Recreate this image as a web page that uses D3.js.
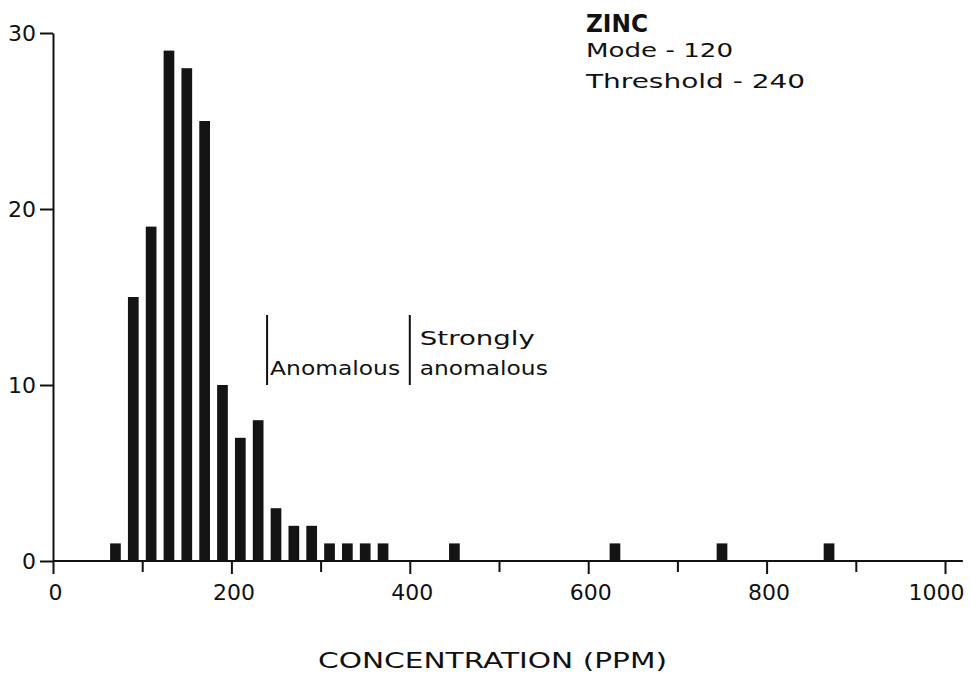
<!DOCTYPE html>
<html>
<head>
<meta charset="utf-8">
<script src="https://cdn.jsdelivr.net/npm/d3@7"></script>
<style>
  body { margin: 0; background: #fff; }
  svg text { font-family: "DejaVu Sans", "Liberation Sans", sans-serif; fill: #111; }
</style>
</head>
<body>
<div id="chart"></div>
<script>
// bin centres (ppm) and sample counts
var binCenters = [70, 90, 110, 130, 150, 170, 190, 210, 230, 250, 270, 290, 310, 330, 350, 370, 450, 630, 750, 870];
var counts     = [1, 15, 19, 29, 28, 25, 10, 7, 8, 3, 2, 2, 1, 1, 1, 1, 1, 1, 1, 1];
var xTicks = [0, 200, 400, 600, 800, 1000];
var xMinor = [100, 300, 500, 700, 900];
var yTicks = [0, 10, 20, 30];
var boundaries = [240, 400];   // threshold and strongly anomalous limit
var infoLines = ["ZINC", "Mode - 120", "Threshold - 240"];

var width = 971, height = 686;
var binHalf = 6;

var svg = d3.select("#chart").append("svg")
    .attr("width", width)
    .attr("height", height);

var x = d3.scaleLinear().domain([0, 1000]).range([53, 945]);
var y = d3.scaleLinear().domain([0, 30]).range([561, 33]);

var bars = binCenters.map(function(c, i) { return {c: c, n: counts[i]}; });

// bars
svg.selectAll("rect.bar")
    .data(bars)
    .enter()
    .append("rect")
    .attr("class", "bar")
    .attr("x", function(d) { return x(d.c - binHalf); })
    .attr("width", function(d) { return x(d.c + binHalf) - x(d.c - binHalf); })
    .attr("y", function(d) { return y(d.n); })
    .attr("height", function(d) { return y(0) - y(d.n); })
    .attr("fill", "#141414");

// x axis
var xAxis = svg.append("g")
    .attr("transform", "translate(0," + y(0) + ")")
    .call(d3.axisBottom(x).tickValues(xTicks).tickSize(13).tickPadding(10).tickFormat(d3.format("d")));
xAxis.select(".domain").remove();
xAxis.selectAll("text")
    .style("font-size", "22px")
    .attr("dx", function(d) { return d == 1000 ? -9 : 2; });

svg.append("g")
    .attr("transform", "translate(0," + y(0) + ")")
    .call(d3.axisBottom(x).tickValues(xMinor).tickSize(11).tickFormat(""))
    .select(".domain").remove();

svg.append("line")
    .attr("x1", x(0)).attr("x2", x(1020))
    .attr("y1", y(0)).attr("y2", y(0))
    .attr("stroke", "#111").attr("stroke-width", 2);

// y axis
var yAxis = svg.append("g")
    .attr("transform", "translate(" + x(0) + ",0)")
    .call(d3.axisLeft(y).tickValues(yTicks).tickSize(13).tickSizeOuter(0).tickPadding(4));
yAxis.selectAll("text").style("font-size", "22px");

svg.selectAll(".tick line").attr("stroke", "#111").attr("stroke-width", 2);
svg.selectAll(".domain").attr("stroke", "#111").attr("stroke-width", 2);

// anomaly boundaries
svg.selectAll("line.bound")
    .data(boundaries)
    .enter()
    .append("line")
    .attr("class", "bound")
    .attr("x1", function(d) { return x(d); })
    .attr("x2", function(d) { return x(d); })
    .attr("y1", 315)
    .attr("y2", 385)
    .attr("stroke", "#111")
    .attr("stroke-width", 2);

svg.append("text")
    .attr("x", x(240) + 3).attr("y", 375)
    .attr("textLength", 130).attr("lengthAdjust", "spacingAndGlyphs")
    .style("font-size", "19px")
    .text("Anomalous");

svg.append("text")
    .attr("x", x(400) + 10).attr("y", 345)
    .attr("textLength", 115).attr("lengthAdjust", "spacingAndGlyphs")
    .style("font-size", "19px")
    .text("Strongly");

svg.append("text")
    .attr("x", x(400) + 10).attr("y", 375)
    .attr("textLength", 128).attr("lengthAdjust", "spacingAndGlyphs")
    .style("font-size", "19px")
    .text("anomalous");

// info block, top right
var infoY = [32, 57, 88];
var infoW = [62, 147, 219];
svg.selectAll("text.info")
    .data(infoLines)
    .enter()
    .append("text")
    .attr("class", "info")
    .attr("x", 586)
    .attr("y", function(d, i) { return infoY[i]; })
    .attr("textLength", function(d, i) { return infoW[i]; })
    .attr("lengthAdjust", "spacingAndGlyphs")
    .style("font-size", function(d, i) { return i == 0 ? "25px" : "19px"; })
    .style("font-weight", function(d, i) { return i == 0 ? "bold" : "normal"; })
    .text(function(d) { return d; });

// axis title
svg.append("text")
    .attr("x", 318).attr("y", 668)
    .attr("textLength", 349).attr("lengthAdjust", "spacingAndGlyphs")
    .style("font-size", "22px")
    .text("CONCENTRATION (PPM)");
</script>
</body>
</html>
